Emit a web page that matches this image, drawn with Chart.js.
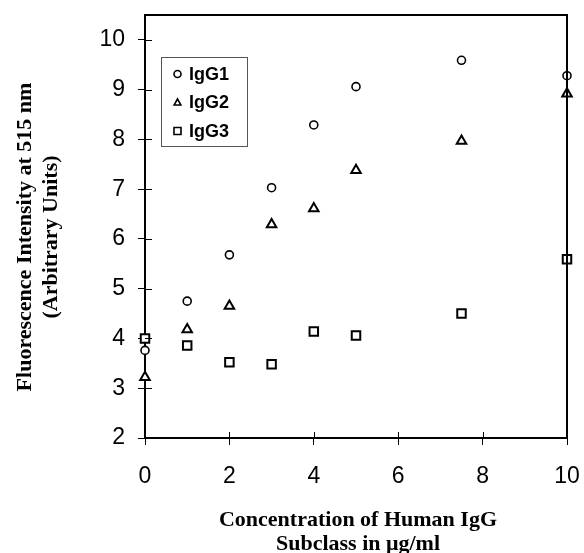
<!DOCTYPE html>
<html lang="en">
  <head>
    <meta charset="UTF-8" />
    <title>IgG subclass fluorescence</title>
    <style>
      * {
        margin: 0;
        padding: 0;
        box-sizing: border-box;
      }
      body {
        width: 584px;
        height: 553px;
        background: #fff;
        overflow: hidden;
      }
      .wrap {
        width: 584px;
        height: 553px;
        position: relative;
      }
    </style>
  </head>
  <body>
    <div class="wrap">
      <canvas id="myChart" width="584" height="553"></canvas>
    </div>
    <script src="https://cdn.jsdelivr.net/npm/chart.js"></script>
    <script>
      // concentration (ug/ml)
      const concentraciones = [0, 1, 2, 3, 4, 5, 7.5, 10];
      const igg1 = [3.76, 4.75, 5.68, 7.03, 8.29, 9.06, 9.59, 9.28];
      const igg2 = [3.22, 4.18, 4.65, 6.29, 6.61, 7.38, 7.97, 8.92];
      const igg3 = [4.0, 3.86, 3.52, 3.48, 4.14, 4.06, 4.5, 5.59];
      const xTicks = [0, 2, 4, 6, 8, 10];
      const yTicks = [2, 3, 4, 5, 6, 7, 8, 9, 10];
      const nombres = ["IgG1", "IgG2", "IgG3"];
      const tituloX = ["Concentration of Human IgG", "Subclass in \u03bcg/ml"];
      const tituloY = ["Fluorescence Intensity at 515 nm", "(Arbitrary Units)"];

      function puntos(vals) {
        return concentraciones.map((c, i) => ({ x: c, y: vals[i] }));
      }

      function marca(ctx, estilo, x, y, r) {
        ctx.beginPath();
        if (estilo === "circle") {
          ctx.arc(x, y, r, 0, Math.PI * 2);
        } else if (estilo === "triangle") {
          ctx.moveTo(x, y - r);
          ctx.lineTo(x + r * 0.95, y + r * 0.7);
          ctx.lineTo(x - r * 0.95, y + r * 0.7);
          ctx.closePath();
        } else {
          ctx.rect(x - r, y - r, 2 * r, 2 * r);
        }
        ctx.stroke();
      }

      // frame, inner ticks, axis titles and boxed legend
      const extras = {
        id: "extras",
        afterDraw(chart) {
          const ctx = chart.ctx;
          const a = chart.chartArea;
          const sx = chart.scales.x;
          const sy = chart.scales.y;
          ctx.save();
          ctx.strokeStyle = "#000";
          ctx.lineWidth = 2;
          ctx.beginPath();
          ctx.moveTo(a.left, a.top);
          ctx.lineTo(a.right, a.top);
          ctx.lineTo(a.right, a.bottom);
          ctx.stroke();

          ctx.lineWidth = 1;
          ctx.beginPath();
          yTicks.forEach((v) => {
            const py = Math.round(sy.getPixelForValue(v)) + 0.5;
            ctx.moveTo(a.left, py);
            ctx.lineTo(a.left + 7, py);
          });
          xTicks.forEach((v) => {
            const px = Math.round(sx.getPixelForValue(v)) + 0.5;
            ctx.moveTo(px, a.bottom);
            ctx.lineTo(px, a.bottom - 6);
          });
          ctx.stroke();

          ctx.fillStyle = "#000";
          ctx.font = "bold 22px 'Liberation Serif'";
          ctx.textAlign = "center";
          ctx.textBaseline = "alphabetic";
          const cx = (a.left + a.right) / 2 + 2;
          ctx.fillText(tituloX[0], cx, 526);
          ctx.fillText(tituloX[1], cx, 550);

          ctx.save();
          ctx.translate(0, 237);
          ctx.rotate(-Math.PI / 2);
          ctx.fillText(tituloY[0], 0, 31);
          ctx.fillText(tituloY[1], 0, 57);
          ctx.restore();

          // legend
          ctx.strokeStyle = "#555";
          ctx.lineWidth = 1;
          ctx.strokeRect(161.5, 57.5, 86, 89);
          const estilos = ["circle", "triangle", "rect"];
          ctx.font = "bold 18px 'Liberation Sans'";
          ctx.textAlign = "left";
          ctx.textBaseline = "middle";
          nombres.forEach((n, i) => {
            const y = 74 + i * 28.5;
            ctx.strokeStyle = "#000";
            ctx.lineWidth = 1.6;
            marca(ctx, estilos[i], 177.5, y, 3.5);
            ctx.fillText(n, 189, y + 1);
          });
          ctx.restore();
        },
      };

      const base = {
        showLine: false,
        backgroundColor: "#fff",
        borderColor: "#000",
        clip: false,
      };

      new Chart(document.getElementById("myChart"), {
        type: "scatter",
        data: {
          datasets: [
            {
              ...base,
              label: nombres[0],
              data: puntos(igg1),
              pointStyle: "circle",
              pointRadius: 4,
              borderWidth: 1.6,
            },
            {
              ...base,
              label: nombres[1],
              data: puntos(igg2),
              pointStyle: "triangle",
              pointRadius: 5.5,
              borderWidth: 2,
            },
            {
              ...base,
              label: nombres[2],
              data: puntos(igg3),
              pointStyle: "rect",
              pointRadius: 6,
              borderWidth: 2,
            },
          ],
        },
        options: {
          responsive: false,
          animation: false,
          layout: { padding: { top: 15, right: 17, left: 0, bottom: 0 } },
          plugins: {
            legend: { display: false },
            tooltip: { enabled: false },
          },
          scales: {
            x: {
              type: "linear",
              min: 0,
              max: 10,
              afterBuildTicks: (s) => {
                s.ticks = xTicks.map((v) => ({ value: v }));
              },
              afterFit: (s) => {
                s.height = 115;
                s.paddingLeft = 0;
                s.paddingRight = 0;
              },
              border: { display: true, color: "#000", width: 2 },
              grid: {
                drawOnChartArea: false,
                color: "#000",
                tickLength: 7,
              },
              ticks: {
                color: "#000",
                padding: 18,
                maxRotation: 0,
                font: { family: "'Liberation Sans'", size: 23 },
              },
            },
            y: {
              type: "linear",
              min: 2,
              max: 10.5,
              afterBuildTicks: (s) => {
                s.ticks = yTicks.map((v) => ({ value: v }));
              },
              afterFit: (s) => {
                s.width = 145;
                s.paddingTop = 0;
                s.paddingBottom = 0;
              },
              border: { display: true, color: "#000", width: 2 },
              grid: {
                drawOnChartArea: false,
                color: "#000",
                tickLength: 7,
              },
              ticks: {
                color: "#000",
                padding: 13,
                font: { family: "'Liberation Sans'", size: 23 },
              },
            },
          },
        },
        plugins: [extras],
      });
    </script>
  </body>
</html>
